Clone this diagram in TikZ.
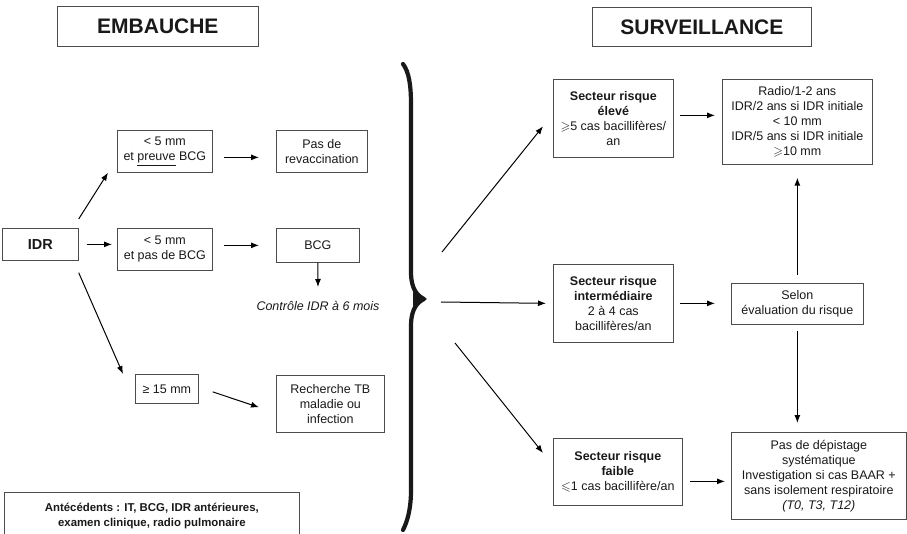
\documentclass[tikz,border=0pt]{standalone}
\usepackage{amssymb}
\usepackage{fontspec}
\setmainfont{Liberation Sans}
\usetikzlibrary{arrows.meta}
\tikzset{
  box/.style={draw=black!70, line width=0.7pt, inner sep=0pt, align=center, anchor=north west,
    text=black!90, font=\fontsize{12.5}{15}\selectfont},
  head/.style={box, font=\fontsize{21}{24}\selectfont\bfseries, text=black!90},
  arr/.style={draw=black, line width=1pt, -{Latex[length=8pt,width=6pt]}},
  bracestyle/.style={draw=black!90, line width=4.2pt, line cap=round, line join=round}
}
\begin{document}
\begin{tikzpicture}[x=1pt,y=-1pt]
\useasboundingbox (0,0) rectangle (907,534);
% headings
\node[head, minimum width=201pt, minimum height=40pt] (emb) at (57,6) {EMBAUCHE};
\node[head, minimum width=219pt, minimum height=39pt] (surv) at (592,7) {SURVEILLANCE};
% left part
\node[box, minimum width=95pt, minimum height=42pt] (preuve) at (117,130) {< 5 mm\\et \underline{preuve} BCG};
\node[box, minimum width=91pt, minimum height=42pt] (revac) at (276,130) {Pas de\\revaccination};
\node[box, minimum width=76pt, minimum height=32pt, font=\fontsize{14.5}{16}\selectfont\bfseries] (idr) at (2,228) {IDR};
\node[box, minimum width=95pt, minimum height=42pt] (pasbcg) at (117,228) {< 5 mm\\et pas de BCG};
\node[box, minimum width=83pt, minimum height=34pt] (bcg) at (276,228) {BCG};
\coordinate (ctrlpt) at (318,287);
\node[align=center, text=black!90, font=\fontsize{12.5}{15}\selectfont\itshape] (ctrl) at (318,306) {Contrôle IDR à 6 mois};
\node[box, minimum width=63pt, minimum height=29pt] (ge15) at (135,374) {≥ 15 mm};
\node[box, minimum width=108pt, minimum height=57pt] (rech) at (276,375) {Recherche TB\\maladie ou\\infection};
\node[box, minimum width=295pt, minimum height=47pt, font=\fontsize{11.4}{15}\selectfont\bfseries] (ante) at (4,492) {Antécédents : IT, BCG, IDR antérieures,\\examen clinique, radio pulmonaire};
% right part
\node[box, minimum width=120pt, minimum height=78pt] (elev) at (553,79) {{\bfseries Secteur risque}\\{\bfseries élevé}\\$\geqslant$5 cas bacillifères/\\an};
\node[box, minimum width=150pt, minimum height=85pt] (radio) at (722,79) {Radio/1-2 ans\\IDR/2 ans si IDR initiale\\< 10 mm\\IDR/5 ans si IDR initiale\\$\geqslant$10 mm};
\node[box, minimum width=120pt, minimum height=78pt] (inter) at (553,264) {{\bfseries Secteur risque}\\{\bfseries intermédiaire}\\2 à 4 cas\\bacillifères/an};
\node[box, minimum width=132pt, minimum height=41pt] (selon) at (731,283) {Selon\\évaluation du risque};
\node[box, minimum width=129pt, minimum height=67pt] (faible) at (553,438) {{\bfseries Secteur risque}\\{\bfseries faible}\\$\leqslant$1 cas bacillifère/an};
\node[box, minimum width=175pt, minimum height=87pt] (pasdep) at (731,432) {Pas de dépistage\\systématique\\Investigation si cas BAAR +\\sans isolement respiratoire\\\textit{(T0, T3, T12)}};
% brace
\draw[bracestyle] (403,64) .. controls (409,72) and (411,85) .. (411,105)
  -- (411,272) .. controls (411,290) and (418,296) .. (424,299)
  .. controls (418,302) and (411,308) .. (411,326)
  -- (411,490) .. controls (411,510) and (407,522) .. (403,530);
\fill[black!90] (413,292) -- (427,299) -- (413,306) -- cycle;
\coordinate (b1) at (442,252);
\coordinate (b2) at (441,302);
\coordinate (b3) at (455,343);
% arrows left
\draw[arr] ([yshift=9pt]idr.north east) -- ([xshift=-9pt]preuve.south west);
\draw[arr] ([xshift=8pt]idr.east) -- ([xshift=-5pt]pasbcg.west |- idr.east);
\draw[arr] ([xshift=11pt,yshift=-6pt]preuve.east) -- ([xshift=-17pt,yshift=-6pt]revac.west);
\draw[arr] ([xshift=11pt]pasbcg.east |- bcg.west) -- ([xshift=-17pt]bcg.west);
\draw[arr] (bcg.south) -- (ctrlpt);
\draw[arr] ([yshift=-12pt]idr.south east) -- ([xshift=-12pt]ge15.north west);
\draw[arr] ([xshift=14pt,yshift=-3pt]ge15.east) -- ([xshift=-17pt,yshift=-3.5pt]rech.west);
% arrows right
\draw[arr] (b1) -- ([xshift=-10pt,yshift=-8pt]elev.west);
\draw[arr] (b2) -- ([xshift=-7pt]inter.west);
\draw[arr] (b3) -- ([xshift=-10pt,yshift=-15pt]faible.north west);
\draw[arr] ([xshift=6pt,yshift=3pt]elev.east) -- ([xshift=-7pt,yshift=6.5pt]radio.west);
\draw[arr] ([xshift=6pt]inter.east) -- ([xshift=-16pt]selon.west |- inter.east);
\draw[arr] ([yshift=8pt]selon.north) -- ([yshift=-13pt]selon.north |- radio.south);
\draw[arr] ([yshift=-6pt]selon.south) -- ([yshift=9pt]selon.south |- pasdep.north);
\draw[arr] ([xshift=7pt,yshift=-9.5pt]faible.east) -- ([xshift=-6pt,yshift=-5.5pt]pasdep.west);
\end{tikzpicture}
\end{document}
